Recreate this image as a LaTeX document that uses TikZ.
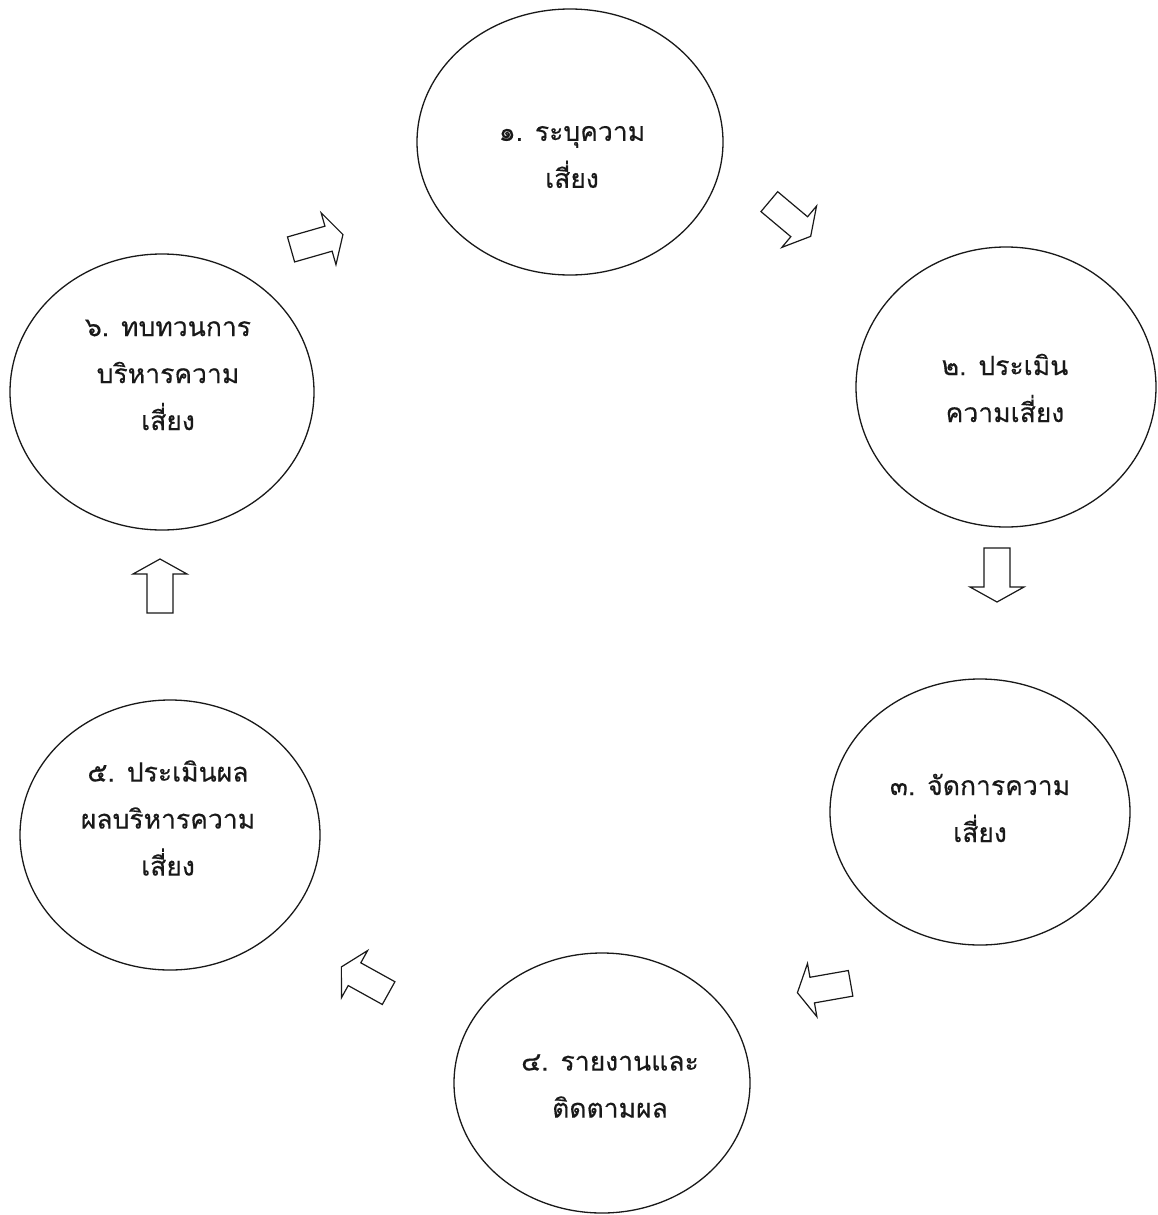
\documentclass[tikz,border=0pt]{standalone}
\usepackage{fontspec}
\newfontfamily\thaifont[Script=Thai,FakeBold=0.3]{Loma}
\usetikzlibrary{shapes.geometric}
\begin{document}
\begin{tikzpicture}[x=1pt,y=-1pt,
  stage/.style={ellipse,draw=black!90,line width=1.3pt,inner sep=0pt},
  stagetext/.style={font=\thaifont\fontsize{26.5}{47}\selectfont,align=center,text=black!90,inner sep=0pt},
  blockarr/.pic={\draw[line width=1.2pt,line join=miter,draw=black!90,fill=white]
      (-27,-13) -- (12,-13) -- (12,-27) -- (27,0) -- (12,27) -- (12,13) -- (-27,13) -- cycle;}
]
\fill[white] (0,0) rectangle (1158,1215);
\useasboundingbox (0,0) rectangle (1158,1215);

% stages
\node[stage,minimum width=306pt,minimum height=266pt] (c1) at (570,142) {};
\node[stage,minimum width=300pt,minimum height=280pt] (c2) at (1006,387) {};
\node[stage,minimum width=300pt,minimum height=266pt] (c3) at (980,812) {};
\node[stage,minimum width=296pt,minimum height=260pt] (c4) at (602,1083) {};
\node[stage,minimum width=300pt,minimum height=270pt] (c5) at (170,835) {};
\node[stage,minimum width=304pt,minimum height=276pt] (c6) at (162,392) {};

% texts
\node[stagetext] (t1) at (572,157) {๑. ระบุความ\\เสี่ยง};
\node[stagetext] (t2) at (1005,388) {๒. ประเมิน\\ความเสี่ยง};
\node[stagetext] (t3) at (980,808) {๓. จัดการความ\\เสี่ยง};
\node[stagetext] (t4) at (610,1086) {๔. รายงานและ\\ติดตามผล};
\node[stagetext] (t5) at (168,818) {๕. ประเมินผล\\ผลบริหารความ\\เสี่ยง};
\node[stagetext] (t6) at (168,375) {๖. ทบทวนการ\\บริหารความ\\เสี่ยง};

% block arrows between stages
\coordinate (a61) at (317,242);
\coordinate (a12) at (790,219);
\coordinate (a23) at (997,575);
\coordinate (a34) at (824,988);
\coordinate (a45) at (365,980);
\coordinate (a56) at (160,586);
\pic[rotate=16] at (a61) {blockarr};
\pic[rotate=-40] at (a12) {blockarr};
\pic[rotate=-90] at (a23) {blockarr};
\pic[rotate=190] at (a34) {blockarr};
\pic[rotate=151] at (a45) {blockarr};
\pic[rotate=90] at (a56) {blockarr};
\end{tikzpicture}
\end{document}
